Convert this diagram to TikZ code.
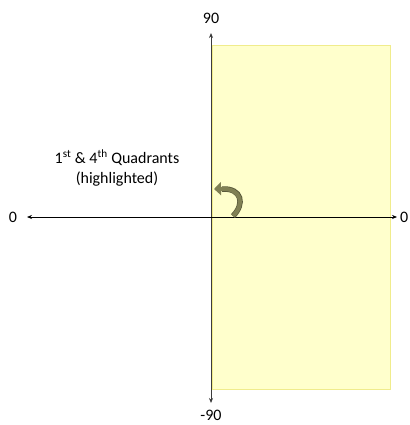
\documentclass[tikz,border=0pt]{standalone}
\usepackage{fontspec}
\setmainfont{Carlito}
\usepackage{tikz}
\usetikzlibrary{calc, positioning, arrows.meta}
\usepackage{xcolor}
\definecolor{quadFill}{RGB}{255, 255, 204}
\definecolor{quadEdge}{RGB}{240, 236, 140}
\definecolor{turnArrow}{RGB}{128, 128, 84}
\definecolor{axisGray}{RGB}{60, 60, 60}

\begin{document}
\begin{tikzpicture}[x=1pt, y=-1pt, >={Stealth[length=5pt, width=4pt]},
  lbl/.style={font=\fontsize{16}{20}\selectfont, inner sep=1pt}]
  \useasboundingbox (0, 0) rectangle (409, 425);

  % Highlighted 1st & 4th quadrants
  \fill[quadFill] (212, 45) rectangle (390, 389);
  \draw[quadEdge, line width=0.8pt] (212, 45) rectangle (390, 389);

  % Axes
  \coordinate (top) at (211, 33);
  \coordinate (bot) at (211, 403);
  \coordinate (lft) at (27, 217);
  \coordinate (rgt) at (397, 217);
  \draw[<->, axisGray, line width=0.8pt] (bot) -- (top);
  \draw[<->, black, line width=0.7pt] (lft) -- (rgt);

  % Axis labels
  \node[lbl] (lblTop) at (211, 18) {90};
  \node[lbl] (lblBot) at (211, 415) {-90};
  \node[lbl] (lblLeft) at (13, 217) {0};
  \node[lbl, anchor=west] (lblRight) at (399, 217) {0};

  % Caption
  \node[lbl, align=center] (caption) at (117, 168)
    {1\textsuperscript{st} \& 4\textsuperscript{th} Quadrants\\(highlighted)};

  % Curved turn arrow
  \coordinate (turnStart) at (233, 216);
  \coordinate (turnEnd) at (214, 189);
  \draw[turnArrow!70!black, line width=5.5pt] (turnStart) .. controls (245, 204) and (242, 188) .. ($(turnEnd)+(8, 0)$);
  \draw[turnArrow, line width=4pt, -{Triangle[width=13pt, length=7pt]}]
    (turnStart) .. controls (245, 204) and (242, 188) .. (turnEnd);
\end{tikzpicture}
\end{document}
